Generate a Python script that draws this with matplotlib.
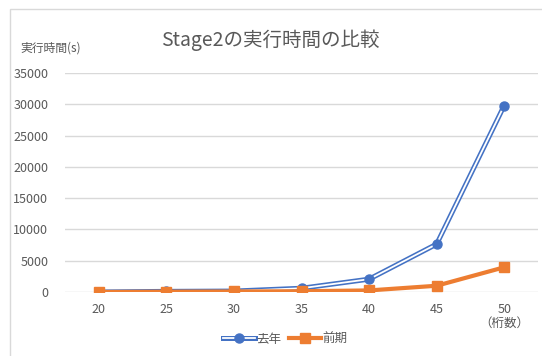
import matplotlib.pyplot as plt
from matplotlib.lines import Line2D
from matplotlib.patches import Rectangle

plt.rcParams['font.family'] = ['Noto Sans CJK JP', 'DejaVu Sans']

digits = ['20', '25', '30', '35', '40', '45', '50']
last_year = [0, 100, 150, 600, 2050, 7650, 29800]
this_term = [0, 50, 80, 120, 250, 1000, 3950]

blue = '#4472C4'
orange = '#ED7D31'
gray = '#595959'

fig = plt.figure(figsize=(5.42, 3.56), dpi=100)
fig.patches.append(Rectangle((10 / 542, -0.1), 1.2, (356 - 9) / 356 + 0.1,
                             transform=fig.transFigure, fill=False,
                             edgecolor='#D9D9D9', lw=1))

ax = fig.add_axes([65 / 542, (356 - 292) / 356, (538 - 65) / 542, (292 - 73) / 356])
x = range(len(digits))

ax.plot(x, last_year, color=blue, lw=3.6, zorder=3, solid_joinstyle='miter')
ax.plot(x, last_year, color='white', lw=1.3, zorder=4)
ax.plot(x, last_year, ls='none', marker='o', ms=6.5, color=blue, zorder=5)
ax.plot(x, this_term, color=orange, lw=3, marker='s', ms=7.5, zorder=6)

ax.set_xlim(-0.5, len(digits) - 0.5)
ax.set_ylim(0, 35000)
ax.set_yticks(range(0, 35001, 5000))
ax.set_xticks(list(x))
ax.set_xticklabels(digits)
ax.grid(axis='y', color='#D9D9D9', lw=1)
ax.set_axisbelow(True)
for s in ax.spines.values():
    s.set_visible(False)
ax.tick_params(length=0, colors=gray, labelsize=9, pad=8)
ax.tick_params(axis='y', pad=12)

fig.text(270 / 542, 1 - 40 / 356, 'Stage2の実行時間の比較', ha='center', va='center',
         fontsize=14, color=gray)
fig.text(20 / 542, 1 - 48 / 356, '実行時間(s)', ha='left', va='center',
         fontsize=8.5, color=gray)
fig.text(504 / 542, 1 - 323 / 356, '（桁数）', ha='center', va='center',
         fontsize=9, color=gray)

h1 = (Line2D([], [], color=blue, lw=3.6),
      Line2D([], [], color='white', lw=1.3),
      Line2D([], [], ls='none', marker='o', ms=6.5, color=blue))
h2 = Line2D([], [], color=orange, lw=3, marker='s', ms=7.5)
leg = fig.legend([h1, h2], ['去年', '前期'], loc='center', bbox_to_anchor=(285 / 542, 1 - 339 / 356),
                 ncol=2, frameon=False, fontsize=9, handlelength=2.6, handletextpad=0.1,
                 columnspacing=0.6, labelcolor=gray)

fig.savefig('out.png', dpi=100)
